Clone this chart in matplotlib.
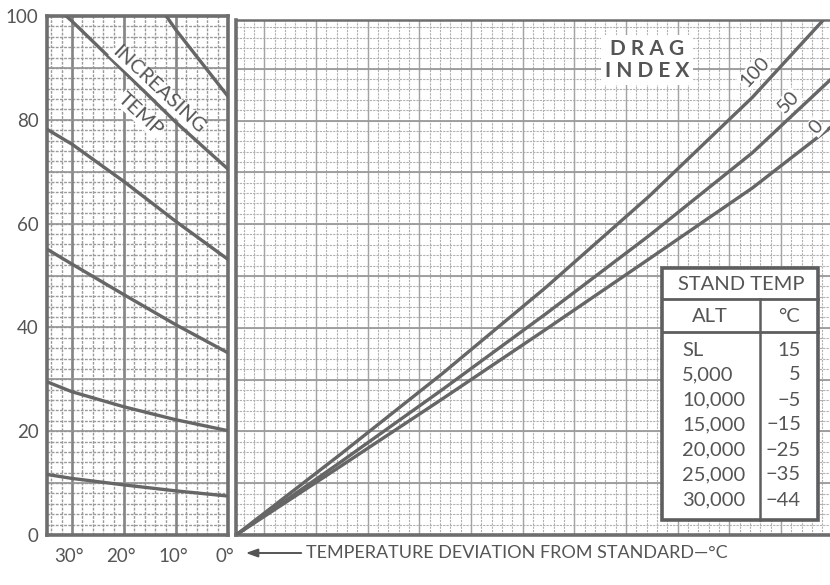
import numpy as np
import matplotlib
matplotlib.use("Agg")
import matplotlib.pyplot as plt
import matplotlib.transforms as mtransforms
from matplotlib.patches import Rectangle, FancyArrowPatch
from matplotlib.lines import Line2D

plt.rcParams['font.family'] = ['Lato', 'DejaVu Sans']

# ---------------- data ----------------
# Left panel: temperature deviation (deg C) vs chart value
temp_dev = [35, 30, 20, 10, 0]
curve_a = [11.7, 10.9, 9.65, 8.5, 7.5]
curve_b = [29.6, 27.6, 24.7, 22.2, 20.1]
curve_c = [55.2, 52.2, 46.3, 40.5, 35.1]
curve_d = [78.3, 75.3, 68.1, 60.4, 53.1]
curve_e = [103.5, 99.0, 89.3, 79.5, 70.5]
temp_dev_f = [15, 10, 0]
curve_f = [104.5, 97.3, 84.5]

# Right panel: drag index lines (unlabelled horizontal scale)
xr = [0, 20, 40, 60, 80, 100, 115]
drag_100 = [0, 15.4, 31.2, 47.8, 65.4, 84.5, 100.8]
drag_50 = [0, 13.9, 28.1, 42.7, 57.8, 73.8, 87.8]
drag_0 = [0, 13.1, 26.3, 39.7, 53.3, 67.0, 78.6]
drag_labels = ["100", "50", "0"]

y_ticks = [0, 20, 40, 60, 80, 100]
x_ticks = [30, 20, 10, 0]
x_tick_labels = ["30°", "20°", "10°", "0°"]

table_title = "STAND TEMP"
table_head = ["ALT", "°C"]
alts = ["SL", "5,000", "10,000", "15,000", "20,000", "25,000", "30,000"]
std_temps = ["15", "5", "\u22125", "\u221215", "\u221225", "\u221235", "\u221244"]

# ---------------- layout ----------------
W, H = 830, 585
fig = plt.figure(figsize=(W / 100, H / 100), dpi=100)
fig.patch.set_facecolor("white")

def fx(px):
    return px / W

def fy(py):
    return 1 - py / H

TXT = "#555555"
LINE = "#666666"
BOX = "#5e5e5e"

axL = fig.add_axes([fx(47), fy(535), fx(228) - fx(47), fy(16) - fy(535)])
axR = fig.add_axes([fx(236), fy(535), 1 - fx(236), fy(20) - fy(535)])

# ---- left panel ----
axL.set_xlim(34.8, 0)
axL.set_ylim(0, 100)
for v in np.arange(0, 35, 2):
    axL.axvline(v, color="#9a9a9a", lw=1.0, ls=(0, (2, 1)), zorder=1)
for v in np.arange(0, 101, 2):
    axL.axhline(v, color="#9a9a9a", lw=1.0, ls=(0, (2, 1)), zorder=1)
for v in [10, 20, 30]:
    axL.axvline(v, color="#858585", lw=1.9, zorder=1.5)
for v in range(10, 100, 10):
    axL.axhline(v, color="#939393", lw=1.2, zorder=1.5)

for ys in [curve_a, curve_b, curve_c, curve_d, curve_e]:
    axL.plot(temp_dev, ys, color=LINE, lw=2.4, zorder=3)
axL.plot(temp_dev_f, curve_f, color=LINE, lw=2.4, zorder=3)

axL.set_yticks(y_ticks)
axL.set_xticks(x_ticks)
axL.set_xticklabels(x_tick_labels)
axL.tick_params(axis="both", length=0, labelsize=13.5, colors=TXT)
axL.tick_params(axis="y", pad=6)
axL.tick_params(axis="x", pad=9)
shift = mtransforms.ScaledTranslation(-3 / 100, 0, fig.dpi_scale_trans)
for lab in axL.get_xticklabels():
    lab.set_transform(lab.get_transform() + shift)
for s in axL.spines.values():
    s.set_color("#6e6e6e")
    s.set_linewidth(2.6)

axL.text(13.4, 85.8, "INCREASING", rotation=-43, ha="center", va="center",
         fontsize=14.5, color=TXT, zorder=4,
         bbox=dict(facecolor="white", edgecolor="none", pad=0.3))
axL.text(16.9, 81.0, "TEMP", rotation=-43, ha="center", va="center",
         fontsize=14.5, color=TXT, zorder=4,
         bbox=dict(facecolor="white", edgecolor="none", pad=0.3))

# ---- right panel ----
axR.set_xlim(0, 115)
axR.set_ylim(0, 99.4)
for v in np.arange(1.5, 116, 2):
    axR.axvline(v, color="#b0b0b0", lw=0.8, ls=(0, (2, 1)), zorder=1)
for v in np.arange(0, 100, 2):
    axR.axhline(v, color="#b0b0b0", lw=0.8, ls=(0, (2, 1)), zorder=1)
for v in np.arange(5.5, 116, 10):
    axR.axvline(v, color="#a3a3a3", lw=1.0, zorder=1.5)
for v in range(10, 100, 10):
    axR.axhline(v, color="#9a9a9a", lw=1.3, zorder=1.5)

for ys in [drag_100, drag_50, drag_0]:
    axR.plot(xr, ys, color=LINE, lw=2.4, zorder=3)

axR.set_xticks([])
axR.set_yticks([])
axR.spines["right"].set_visible(False)
for k in ["left", "bottom", "top"]:
    axR.spines[k].set_color("#6e6e6e")
axR.spines["left"].set_linewidth(2.6)
axR.spines["bottom"].set_linewidth(2.6)
axR.spines["top"].set_linewidth(1.8)

# drag index labels
for lbl, px, py in zip(drag_labels, [755, 789, 816], [72, 102, 127]):
    fig.text(fx(px), fy(py), lbl, rotation=47, ha="center", va="center",
             fontsize=14, color=TXT, zorder=6,
             bbox=dict(facecolor="white", edgecolor="none", pad=0.5))

fig.text(fx(647), fy(60), "D R A G\nI N D E X", ha="center", va="center",
         fontsize=15, fontweight="bold", color=TXT, linespacing=1.1, zorder=6,
         bbox=dict(facecolor="white", edgecolor="none", pad=3))

# ---- table ----
r = Rectangle((fx(662), fy(520)), fx(818) - fx(662), fy(268) - fy(520),
              transform=fig.transFigure, facecolor="white", edgecolor=BOX,
              lw=2.6, zorder=4)
fig.add_artist(r)
for y0 in [299, 332]:
    fig.add_artist(Line2D([fx(662), fx(818)], [fy(y0), fy(y0)], color=BOX,
                          lw=2.0, transform=fig.transFigure, zorder=5))
fig.add_artist(Line2D([fx(760), fx(760)], [fy(299), fy(520)], color=BOX,
                      lw=1.8, transform=fig.transFigure, zorder=5))

tk = dict(fontsize=14.5, color=TXT, va="center", zorder=6)
fig.text(fx(741), fy(284), table_title, ha="center", **tk)
fig.text(fx(710), fy(316), table_head[0], ha="center", **tk)
fig.text(fx(789), fy(316), table_head[1], ha="center", **tk)
for i, (a, t) in enumerate(zip(alts, std_temps)):
    yy = 350 + 25 * i
    fig.text(fx(682), fy(yy), a, ha="left", **tk)
    fig.text(fx(801), fy(yy), t, ha="right", **tk)

# ---- bottom axis title with arrow ----
fig.add_artist(FancyArrowPatch(
    (fx(304), fy(553)), (fx(243), fy(553)), transform=fig.transFigure,
    arrowstyle="-|>,head_length=7,head_width=2.5", color=TXT, lw=1.4))
fig.text(fx(306), fy(553), "TEMPERATURE DEVIATION FROM STANDARD\u2014°C",
         ha="left", va="center", fontsize=13, color=TXT)

fig.savefig("out.png", dpi=100, facecolor="white")
